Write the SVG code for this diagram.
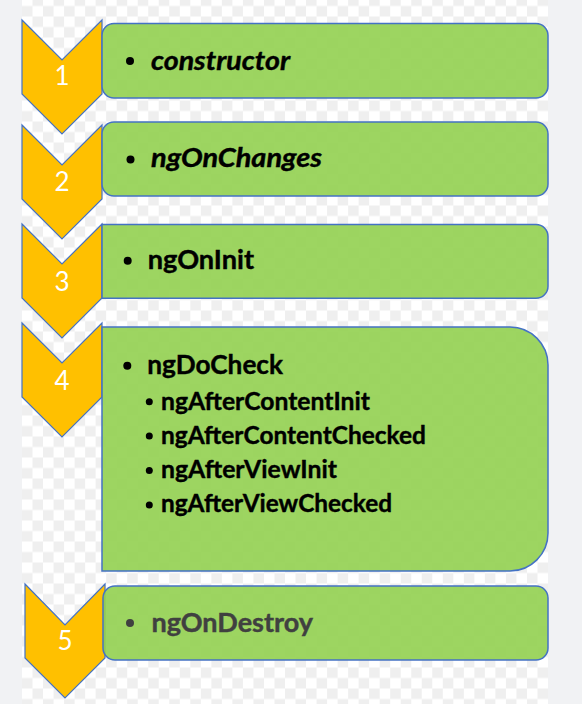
<svg xmlns="http://www.w3.org/2000/svg" width="582" height="704" viewBox="0 0 582 704">
  <defs>
    <pattern id="checker" patternUnits="userSpaceOnUse" x="22" y="-4.5" width="21.04" height="21">
      <rect width="21.04" height="21" fill="#ffffff"/>
      <rect x="10.52" y="0" width="10.52" height="10.5" fill="#efefef"/>
      <rect x="0" y="10.5" width="10.52" height="10.5" fill="#efefef"/>
    </pattern>
    <style>
      .chev { fill: #ffc000; stroke: #4472c4; stroke-width: 1.2; stroke-linejoin: miter; }
      .box { fill: #92d050; fill-opacity: 0.9; stroke: #4472c4; stroke-width: 1.5; }
      .num { font-family: Lato, "Liberation Sans", sans-serif; font-size: 26px; fill: #ffffff; text-anchor: middle; }
      .main { font-family: Lato, "Liberation Sans", sans-serif; font-size: 26px; font-weight: bold; fill: #000000; stroke: #000000; stroke-width: 0.4; }
      .ital { font-style: italic; }
      .sub { font-family: Lato, "Liberation Sans", sans-serif; font-size: 24px; font-weight: bold; fill: #000000; stroke: #000000; stroke-width: 0.4; }
      .gray { fill: #404040; stroke: #404040; }
    </style>
  </defs>

  <rect width="582" height="704" fill="#f1f2f4"/>
  <rect x="22" y="0" width="526" height="704" fill="url(#checker)"/>

  <g id="connectors"/>

  <g id="step1">
    <polygon class="chev" points="22,20 62,60 102,20 102,94 62,134 22,94"/>
    <text class="num" x="62" y="85">1</text>
    <rect class="box" x="102" y="23.5" width="446" height="74.5" rx="12" ry="12"/>
    <circle cx="130" cy="61" r="4"/>
    <text class="main ital" x="151" y="69.5" textLength="139" lengthAdjust="spacingAndGlyphs">constructor</text>
  </g>

  <g id="step2">
    <polygon class="chev" points="22,125 62,165 102,125 102,199 62,239 22,199"/>
    <text class="num" x="62" y="191">2</text>
    <rect class="box" x="102" y="122" width="446" height="74" rx="12" ry="12"/>
    <circle cx="130.5" cy="159.5" r="4"/>
    <text class="main ital" x="151" y="166.5" textLength="171" lengthAdjust="spacingAndGlyphs">ngOnChanges</text>
  </g>

  <g id="step3">
    <polygon class="chev" points="22,224 62,264 102,224 102,298 62,338 22,298"/>
    <text class="num" x="62" y="291">3</text>
    <path class="box" d="M102,224.5 H536 A12,12 0 0 1 548,236.5 V286.3 A12,12 0 0 1 536,298.3 H102 Z"/>
    <circle cx="127.7" cy="260.7" r="4"/>
    <text class="main" x="147.7" y="269.3" textLength="106.3" lengthAdjust="spacingAndGlyphs">ngOnInit</text>
  </g>

  <g id="step4">
    <polygon class="chev" points="22,323 62,363 102,323 102,397 62,437 22,397"/>
    <text class="num" x="62" y="390">4</text>
    <path class="box" d="M102,327 H510 A38,38 0 0 1 548,365 V533 A38,38 0 0 1 510,571 H102 Z"/>
    <circle cx="127.3" cy="365.7" r="4"/>
    <text class="main" x="147.3" y="374.3" textLength="135.7" lengthAdjust="spacingAndGlyphs">ngDoCheck</text>
    <circle cx="149.3" cy="401.7" r="3.5"/>
    <text class="sub" x="161" y="409.5" textLength="209" lengthAdjust="spacingAndGlyphs">ngAfterContentInit</text>
    <circle cx="149.3" cy="436" r="3.5"/>
    <text class="sub" x="161" y="443.5" textLength="265" lengthAdjust="spacingAndGlyphs">ngAfterContentChecked</text>
    <circle cx="149.3" cy="470.5" r="3.5"/>
    <text class="sub" x="161" y="477.8" textLength="176" lengthAdjust="spacingAndGlyphs">ngAfterViewInit</text>
    <circle cx="149.3" cy="505" r="3.5"/>
    <text class="sub" x="161" y="512.3" textLength="231" lengthAdjust="spacingAndGlyphs">ngAfterViewChecked</text>
  </g>

  <g id="step5">
    <polygon class="chev" points="25,584 65,625 105,584 105,658 65,698 25,658"/>
    <text class="num" x="65" y="650">5</text>
    <rect class="box" x="103" y="586" width="445" height="74" rx="12" ry="12"/>
    <circle cx="130" cy="623" r="4" fill="#404040"/>
    <text class="main gray" x="151.4" y="631.7" textLength="161.6" lengthAdjust="spacingAndGlyphs">ngOnDestroy</text>
  </g>
</svg>
